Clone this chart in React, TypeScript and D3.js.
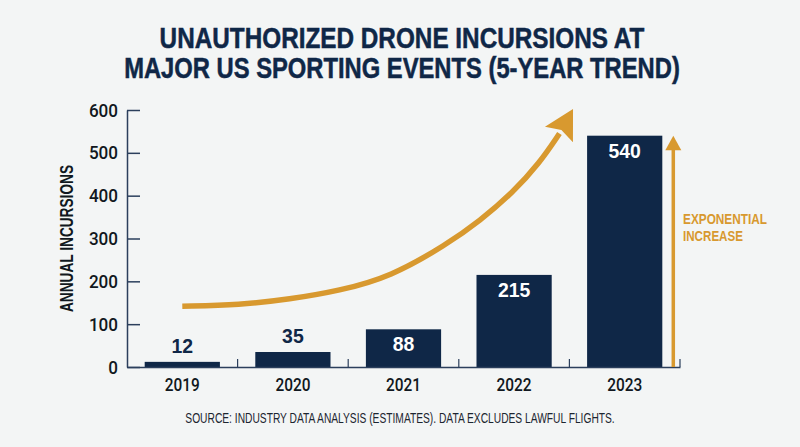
import * as d3 from "d3";
import React, { useEffect, useRef } from "react";

const years = ["2019", "2020", "2021", "2022", "2023"];
const incursions = [12, 35, 88, 215, 540];
const yTicks = [0, 100, 200, 300, 400, 500, 600];
const titleLines = ["UNAUTHORIZED DRONE INCURSIONS AT", "MAJOR US SPORTING EVENTS (5-YEAR TREND)"];
const titleWidths = [485, 556];
const annotationLines = ["EXPONENTIAL", "INCREASE"];
const annotationWidths = [84, 60];
const source = "SOURCE: INDUSTRY DATA ANALYSIS (ESTIMATES). DATA EXCLUDES LAWFUL FLIGHTS.";

const trendYears = [2019, 2019.52, 2019.97, 2020.42, 2020.88, 2021.39, 2021.69, 2021.99, 2022.23, 2022.41];
const trendValues = [142, 145, 158, 178, 210, 286, 341, 408, 476, 545];

const navy = "#0f2747";
const gold = "#d8992f";
const axisColor = "#2b3f5c";
const sans = "'Liberation Sans', sans-serif";

// no condensed face is installed, so squeeze the text to the width it has in the picture
const squeeze = (
  text: d3.Selection<SVGTextElement, unknown, null, undefined>,
  cx: number,
  baseline: number,
  targetWidth: number
) => {
  const k = targetWidth / text.node()!.getComputedTextLength();
  text
    .attr("text-anchor", "middle")
    .attr("transform", `translate(${cx},${baseline}) scale(${k},1)`);
};

const App: React.FC = () => {
  const ref = useRef<SVGSVGElement>(null);

  useEffect(() => {
    const width = 800;
    const height = 447;
    const margin = { top: 110, right: 120, bottom: 80, left: 127 };

    document.body.style.margin = "0";

    const svg = d3.select(ref.current);
    svg.selectAll("*").remove();
    svg.attr("width", width).attr("height", height).style("display", "block");

    svg.append("rect").attr("width", width).attr("height", height).attr("fill", "#f3f5f5");

    const x = d3.scaleBand()
      .domain(years)
      .range([margin.left, width - margin.right])
      .paddingInner(0.32)
      .paddingOuter(0.16);

    const y = d3.scaleLinear()
      .domain([0, 600])
      .range([height - margin.bottom, margin.top]);

    const trendX = d3.scaleLinear()
      .domain([2019, 2023])
      .range([x("2019")! + x.bandwidth() / 2, x("2023")! + x.bandwidth() / 2]);

    // Title
    titleLines.forEach((line, i) => {
      const t = svg.append("text")
        .attr("font-family", sans)
        .attr("font-weight", 700)
        .attr("font-size", 29)
        .attr("fill", navy)
        .attr("stroke", navy)
        .attr("stroke-width", 0.5)
        .text(line);
      squeeze(t as any, 402, 48 + i * 30, titleWidths[i]);
    });

    // Bars
    svg.selectAll("rect.bar")
      .data(incursions)
      .enter()
      .append("rect")
      .attr("class", "bar")
      .attr("x", (_, i) => x(years[i])!)
      .attr("y", (d) => y(d))
      .attr("width", x.bandwidth())
      .attr("height", (d) => y(0) - y(d))
      .attr("fill", navy);

    // Bar labels, the two short bars carry theirs on top
    svg.selectAll("text.value")
      .data(incursions)
      .enter()
      .append("text")
      .attr("class", "value")
      .attr("x", (_, i) => x(years[i])! + x.bandwidth() / 2)
      .attr("y", (d) => (d < 50 ? y(d) - 9 : y(d) + 22))
      .attr("text-anchor", "middle")
      .attr("font-family", sans)
      .attr("font-weight", 700)
      .attr("font-size", 21)
      .attr("fill", (d) => (d < 50 ? navy : "#ffffff"))
      .attr("textLength", (d) => String(d).length * 10.8)
      .attr("lengthAdjust", "spacingAndGlyphs")
      .text((d) => d);

    // Y axis
    const yAxis = svg.append("g")
      .attr("transform", `translate(${margin.left},0)`)
      .call(d3.axisLeft(y).tickValues(yTicks).tickSize(-13).tickPadding(9).tickSizeOuter(0));
    yAxis.selectAll("line").attr("stroke", axisColor).attr("stroke-width", 1.5);
    yAxis.select(".domain").attr("stroke", axisColor).attr("stroke-width", 1.5);
    yAxis.selectAll<SVGTextElement, number>("text")
      .attr("font-family", "Roboto, sans-serif")
      .attr("font-weight", 500)
      .attr("font-size", 19)
      .attr("fill", "#111820")
      .attr("textLength", (d) => String(d).length * 9.7)
      .attr("lengthAdjust", "spacingAndGlyphs");

    // X axis: labels under the bars, ticks between them
    const xAxis = svg.append("g")
      .attr("transform", `translate(0,${y(0)})`)
      .call(d3.axisBottom(x).tickSize(0).tickPadding(11));
    xAxis.select(".domain").attr("stroke", axisColor).attr("stroke-width", 1.5);
    xAxis.selectAll("text")
      .attr("font-family", "Roboto, sans-serif")
      .attr("font-weight", 500)
      .attr("font-size", 18)
      .attr("fill", "#111820")
      .attr("textLength", 35)
      .attr("lengthAdjust", "spacingAndGlyphs");

    svg.selectAll("line.sep")
      .data(years)
      .enter()
      .append("line")
      .attr("class", "sep")
      .attr("x1", (d) => x(d)! + x.bandwidth() + (x.step() - x.bandwidth()) / 2)
      .attr("x2", (d) => x(d)! + x.bandwidth() + (x.step() - x.bandwidth()) / 2)
      .attr("y1", y(0))
      .attr("y2", y(0) - 8)
      .attr("stroke", axisColor)
      .attr("stroke-width", 1.2);

    // Y axis label
    svg.append("text")
      .attr("transform", `translate(72.5,${(165 + 312) / 2}) rotate(-90)`)
      .attr("text-anchor", "middle")
      .attr("font-family", sans)
      .attr("font-weight", 700)
      .attr("font-size", 18)
      .attr("fill", "#111820")
      .attr("textLength", 147)
      .attr("lengthAdjust", "spacingAndGlyphs")
      .text("ANNUAL INCURSIONS");

    // Trend arrow
    const trend = trendYears.map((d, i) => [trendX(d), y(trendValues[i])] as [number, number]);
    const line = d3.line().curve(d3.curveBasis);
    svg.append("path")
      .attr("d", line(trend))
      .attr("fill", "none")
      .attr("stroke", gold)
      .attr("stroke-width", 5.5);

    const [ex, ey] = trend[trend.length - 1];
    svg.append("path")
      .attr("d", "M28,0 L-1,-16 L4,0 L-1,16 Z")
      .attr("transform", `translate(${ex},${ey}) rotate(-61)`)
      .attr("fill", gold);

    // Vertical arrow next to the last bar
    const arrowX = x("2023")! + x.bandwidth() + 11;
    svg.append("line")
      .attr("x1", arrowX)
      .attr("x2", arrowX)
      .attr("y1", y(0))
      .attr("y2", y(540) + 12)
      .attr("stroke", gold)
      .attr("stroke-width", 3.5);
    svg.append("path")
      .attr("d", "M0,0 L8,14.5 L-8,14.5 Z")
      .attr("transform", `translate(${arrowX},${y(540)})`)
      .attr("fill", gold);

    annotationLines.forEach((t, i) => {
      svg.append("text")
        .attr("x", 683)
        .attr("y", 224 + i * 17)
        .attr("font-family", sans)
        .attr("font-weight", 700)
        .attr("font-size", 15.5)
        .attr("fill", gold)
        .attr("textLength", annotationWidths[i])
        .attr("lengthAdjust", "spacingAndGlyphs")
        .text(t);
    });

    // Source note
    const note = svg.append("text")
      .attr("font-family", sans)
      .attr("font-size", 15)
      .attr("fill", "#1c2530")
      .text(source);
    squeeze(note as any, 400, 423, 430);
  }, []);

  return <svg ref={ref}></svg>;
};

export default App;
